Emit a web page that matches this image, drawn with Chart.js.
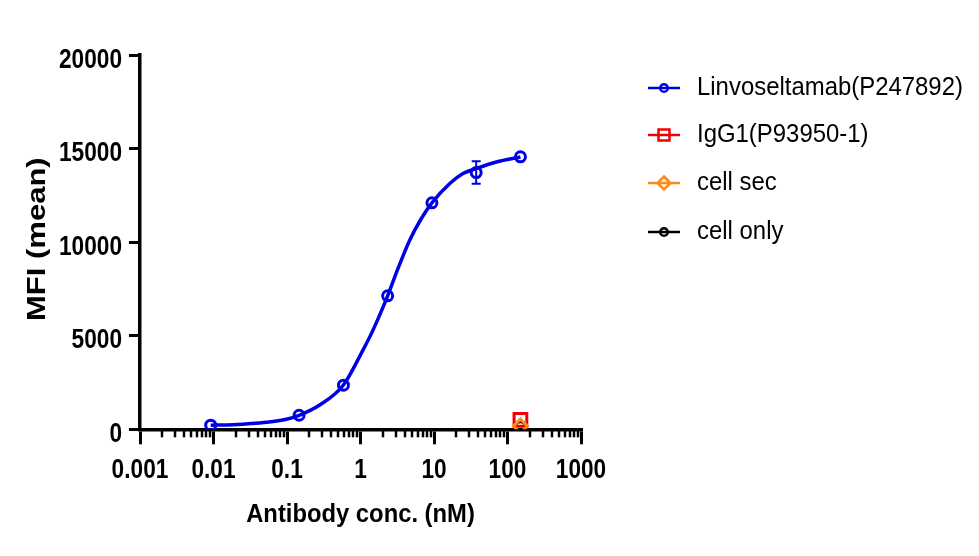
<!DOCTYPE html>
<html>
<head>
<meta charset="utf-8">
<script src="https://cdn.jsdelivr.net/npm/chart.js@4"></script>
<style>
  html, body { margin: 0; padding: 0; background: #fff; }
  #wrap { width: 979px; height: 556px; position: relative; }
</style>
</head>
<body>
<div id="wrap"><canvas id="chart"></canvas></div>
<script>
// Linvoseltamab, 4-fold dilution (nM) and mean MFI
const conc = [0.00916, 0.146, 0.586, 2.34, 9.375, 37.5, 150];
const mfi = [220, 750, 2360, 7130, 12100, 13720, 14560];
const mfiErr = [0, 0, 0, 0, 0, 600, 0];

// fitted curve
const fitX = [0.00916, 0.0184, 0.0525, 0.098, 0.146, 0.279, 0.586, 1.08, 1.48, 2.34, 3.24, 4.67, 6.73, 9.375, 16.4, 24.8, 37.5, 70.6, 150];
const fitY = [220, 245, 374, 534, 747, 1297, 2365, 4233, 5300, 7130, 8594, 10105, 11263, 12096, 13131, 13665, 13932, 14285, 14552];

// controls at top concentration
const ctrlConc = [150];
const igg1 = [500];
const cellSec = [170];
const cellOnly = [130];

const xTicks = [0.001, 0.01, 0.1, 1, 10, 100, 1000];
const xTickLabels = ['0.001', '0.01', '0.1', '1', '10', '100', '1000'];
const yTicks = [0, 5000, 10000, 15000, 20000];
const yTickLabels = ['0', '5000', '10000', '15000', '20000'];

const xTitle = 'Antibody conc. (nM)';
const yTitle = 'MFI (mean)';

const BLUE = '#0000e6';
const RED = '#f00000';
const ORANGE = '#ff8a14';
const BLACK = '#000000';

const legendItems = [
  { text: 'Linvoseltamab(P247892)', color: BLUE, style: 'circle' },
  { text: 'IgG1(P93950-1)', color: RED, style: 'rect' },
  { text: 'cell sec', color: ORANGE, style: 'rectRot' },
  { text: 'cell only', color: BLACK, style: 'circle' }
];

const pts = (xs, ys) => xs.map((x, i) => ({ x: x, y: ys[i] }));
const FAMILY = '"Liberation Sans", Arial, sans-serif';

// the original text is squeezed sideways, so draw it with a horizontal scale
function squeezedText(ctx, str, x, y, sx, align) {
  ctx.save();
  ctx.translate(x, y);
  ctx.scale(sx, 1);
  ctx.textAlign = align;
  ctx.fillText(str, 0, 0);
  ctx.restore();
}

const axisText = {
  id: 'axisText',
  afterDraw(chart) {
    const ctx = chart.ctx;
    const xs = chart.scales.x, ys = chart.scales.y;
    const area = chart.chartArea;
    ctx.save();
    ctx.fillStyle = BLACK;
    ctx.textBaseline = 'alphabetic';
    ctx.font = 'bold 28px ' + FAMILY;
    yTicks.forEach((v, i) => {
      squeezedText(ctx, yTickLabels[i], 122, ys.getPixelForValue(v) + 12.5, 0.81, 'right');
    });
    xTicks.forEach((v, i) => {
      squeezedText(ctx, xTickLabels[i], xs.getPixelForValue(v), 478, 0.81, 'center');
    });
    ctx.font = 'bold 26px ' + FAMILY;
    squeezedText(ctx, xTitle, (area.left + area.right) / 2, 521.5, 0.915, 'center');

    ctx.font = 'bold 25px ' + FAMILY;
    ctx.translate(45, (area.top + area.bottom) / 2 - 3);
    ctx.rotate(-Math.PI / 2);
    ctx.scale(1.24, 1);
    ctx.textAlign = 'center';
    ctx.fillText(yTitle, 0, 0);
    ctx.restore();
  }
};

// short ticks between the decades
const minorTicks = {
  id: 'minorTicks',
  afterDraw(chart) {
    const xs = chart.scales.x;
    const ctx = chart.ctx;
    const y0 = chart.chartArea.bottom;
    ctx.save();
    ctx.strokeStyle = BLACK;
    ctx.lineWidth = 2.5;
    for (let d = -3; d < 3; d++) {
      for (let k = 2; k <= 9; k++) {
        const px = Math.round(xs.getPixelForValue(k * Math.pow(10, d)));
        ctx.beginPath();
        ctx.moveTo(px, y0);
        ctx.lineTo(px, y0 + 8);
        ctx.stroke();
      }
    }
    ctx.restore();
  }
};

const errorBars = {
  id: 'errorBars',
  beforeDatasetDraw(chart, args) {
    if (args.index !== 1) return;
    const xs = chart.scales.x, ys = chart.scales.y;
    const ctx = chart.ctx;
    ctx.save();
    ctx.strokeStyle = BLUE;
    ctx.lineWidth = 2;
    conc.forEach((c, i) => {
      if (!mfiErr[i]) return;
      const px = xs.getPixelForValue(c);
      const top = ys.getPixelForValue(mfi[i] + mfiErr[i]);
      const bot = ys.getPixelForValue(mfi[i] - mfiErr[i]);
      ctx.beginPath();
      ctx.moveTo(px, top); ctx.lineTo(px, bot);
      ctx.moveTo(px - 4.5, top); ctx.lineTo(px + 4.5, top);
      ctx.moveTo(px - 4.5, bot); ctx.lineTo(px + 4.5, bot);
      ctx.stroke();
    });
    ctx.restore();
  }
};

const sideLegend = {
  id: 'sideLegend',
  afterDraw(chart) {
    const ctx = chart.ctx;
    const x0 = 648, x1 = 680, tx = 697;
    const cx = (x0 + x1) / 2;
    const rows = [88, 135, 183, 232];
    ctx.save();
    legendItems.forEach((it, i) => {
      const y = rows[i];
      ctx.strokeStyle = it.color;
      ctx.lineWidth = 2.5;
      ctx.beginPath();
      ctx.moveTo(x0, y); ctx.lineTo(x1, y);
      if (it.style === 'circle') {
        ctx.moveTo(cx + 3.8, y);
        ctx.arc(cx, y, 3.8, 0, Math.PI * 2);
      } else if (it.style === 'rect') {
        ctx.rect(cx - 5.5, y - 5.5, 11, 11);
      } else {
        const r = 6.5;
        ctx.moveTo(cx, y - r); ctx.lineTo(cx + r, y); ctx.lineTo(cx, y + r); ctx.lineTo(cx - r, y); ctx.closePath();
      }
      ctx.stroke();
      ctx.fillStyle = '#000';
      ctx.font = '26px ' + FAMILY;
      ctx.textBaseline = 'alphabetic';
      squeezedText(ctx, it.text, tx, y + 6.5, 0.92, 'left');
    });
    ctx.restore();
  }
};

new Chart(document.getElementById('chart'), {
  type: 'scatter',
  data: {
    datasets: [
      {
        label: 'fit',
        data: pts(fitX, fitY),
        showLine: true,
        borderColor: BLUE,
        borderWidth: 3.5,
        pointRadius: 0,
        cubicInterpolationMode: 'monotone',
        order: 10
      },
      {
        label: 'Linvoseltamab(P247892)',
        data: pts(conc, mfi),
        pointStyle: 'circle',
        pointRadius: 5,
        pointBorderWidth: 3,
        borderColor: BLUE,
        backgroundColor: 'transparent',
        order: 1
      },
      {
        label: 'cell only',
        data: pts(ctrlConc, cellOnly),
        pointStyle: 'circle',
        pointRadius: 5,
        pointBorderWidth: 3,
        borderColor: BLACK,
        backgroundColor: 'transparent',
        order: 5
      },
      {
        label: 'IgG1(P93950-1)',
        data: pts(ctrlConc, igg1),
        pointStyle: 'rect',
        pointRadius: 9,
        pointBorderWidth: 3,
        borderColor: RED,
        backgroundColor: 'transparent',
        order: 4
      },
      {
        label: 'cell sec',
        data: pts(ctrlConc, cellSec),
        pointStyle: 'rectRot',
        pointRadius: 7,
        pointBorderWidth: 3,
        borderColor: ORANGE,
        backgroundColor: 'transparent',
        order: 3
      }
    ]
  },
  options: {
    responsive: true,
    maintainAspectRatio: false,
    animation: false,
    events: [],
    layout: { padding: { left: 0, right: 398, top: 55, bottom: 0 } },
    plugins: {
      legend: { display: false },
      tooltip: { enabled: false }
    },
    scales: {
      x: {
        type: 'logarithmic',
        min: 0.001,
        max: 1000,
        afterBuildTicks: (s) => { s.ticks = xTicks.map(v => ({ value: v })); },
        afterFit: (s) => { s.height = 126.7; },
        ticks: { display: false, autoSkip: false },
        grid: { drawOnChartArea: false, tickLength: 15, lineWidth: 3, color: BLACK },
        border: { color: BLACK, width: 3.5 }
      },
      y: {
        min: 0,
        max: 20000,
        afterBuildTicks: (s) => { s.ticks = yTicks.map(v => ({ value: v })); },
        afterFit: (s) => { s.width = 140; },
        ticks: { display: false },
        grid: { drawOnChartArea: false, tickLength: 11, lineWidth: 3, color: BLACK },
        border: { color: BLACK, width: 3.5 }
      }
    }
  },
  plugins: [minorTicks, errorBars, axisText, sideLegend]
});
</script>
</body>
</html>
